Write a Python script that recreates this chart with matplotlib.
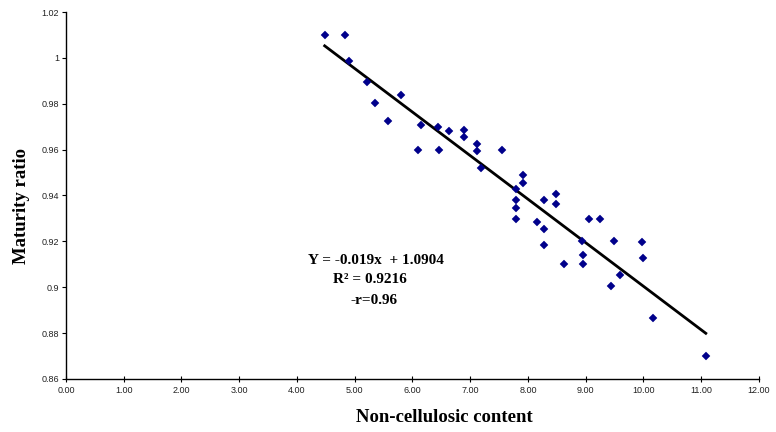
import matplotlib
matplotlib.use("Agg")
import matplotlib.pyplot as plt
import numpy as np
from matplotlib.ticker import FuncFormatter

# non-cellulosic content vs maturity ratio
noncell = [4.48, 4.83, 4.90, 5.22, 5.35, 5.58, 5.80, 6.10, 6.14, 6.45, 6.46,
           6.64, 6.90, 6.90, 7.11, 7.11, 7.19, 7.55, 7.79, 7.79, 7.79, 7.79,
           7.91, 7.91, 8.15, 8.28, 8.28, 8.28, 8.49, 8.49, 8.63, 8.93, 8.96,
           8.96, 9.05, 9.25, 9.43, 9.49, 9.60, 9.97, 9.99, 10.17, 11.08]
maturity = [1.010, 1.010, 0.9985, 0.9897, 0.9803, 0.9726, 0.9838, 0.960,
            0.9707, 0.970, 0.960, 0.9683, 0.9686, 0.9653, 0.9625, 0.9592,
            0.9518, 0.960, 0.9428, 0.938, 0.9346, 0.9299, 0.9488, 0.9453,
            0.9284, 0.938, 0.9254, 0.9183, 0.9406, 0.9361, 0.910, 0.920,
            0.914, 0.910, 0.9297, 0.9297, 0.9004, 0.920, 0.9055, 0.9197,
            0.9127, 0.8866, 0.8699]

slope, intercept = -0.019, 1.0904
r2, neg_r = 0.9216, 0.96

fig = plt.figure(figsize=(7.76, 4.32), dpi=100)
ax = fig.add_axes([0.085, 0.123, 0.893, 0.849])

ax.plot(noncell, maturity, "D", color="#00008b", markersize=3.6,
        markeredgewidth=0.3, zorder=3)
# linear trend over the data range
xl = np.array([min(noncell), max(noncell)])
ax.plot(xl, slope * xl + intercept, color="black", lw=2.0, zorder=2)

ax.set_xlim(0, 12)
ax.set_ylim(0.86, 1.02)
ax.set_xticks(np.arange(0, 13, 1))
ax.set_yticks(np.arange(0.86, 1.0201, 0.02))
ax.xaxis.set_major_formatter(FuncFormatter(lambda v, p: f"{v:.2f}"))
ax.yaxis.set_major_formatter(FuncFormatter(lambda v, p: f"{round(v, 2):g}"))
for s in ["top", "right"]:
    ax.spines[s].set_visible(False)
for s in ["left", "bottom"]:
    ax.spines[s].set_linewidth(1.0)
ax.tick_params(axis="x", direction="inout", length=4, width=0.8,
               labelsize=6.5, labelcolor="#222222", pad=3)
ax.tick_params(axis="y", direction="out", length=3, width=0.8,
               labelsize=6.5, labelcolor="#222222", pad=2)
for lab in ax.get_xticklabels() + ax.get_yticklabels():
    lab.set_family("Liberation Sans")

serif = {"family": "Liberation Serif", "weight": "bold"}
fig.text(0.573, 0.033, "Non-cellulosic content", ha="center", va="center",
         fontsize=13.5, **serif)
fig.text(0.028, 0.524, "Maturity ratio", ha="center", va="center",
         rotation=90, fontsize=13.5, **serif)

ax.text(5.37, 0.9117, f"Y = {slope}x  + {intercept}", ha="center",
        va="center", fontsize=11, **serif)
ax.text(5.27, 0.9033, f"R² = {r2}", ha="center", va="center",
        fontsize=11, **serif)
ax.text(5.33, 0.8942, f"-r={neg_r}", ha="center", va="center",
        fontsize=11, **serif)

fig.savefig("out.png", dpi=100, facecolor="white")
